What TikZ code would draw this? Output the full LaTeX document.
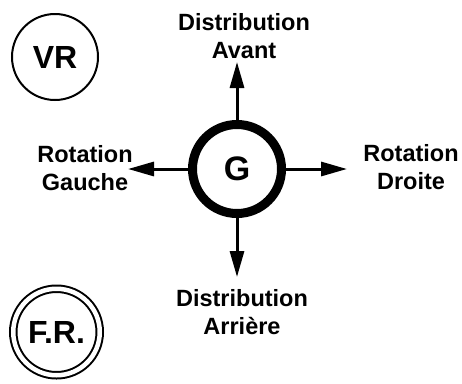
\documentclass[tikz,border=0pt]{standalone}
\usepackage{fontspec}
\setmainfont{Liberation Sans}
\usetikzlibrary{arrows.meta}
\begin{document}
\begin{tikzpicture}[x=1pt,y=-1pt,
  lab/.style={font=\bfseries\fontsize{23.5}{28}\selectfont, align=center, inner sep=0pt},
  ring/.style={circle, draw, inner sep=0pt},
  dirarrow/.style={line width=3pt, -{Triangle[length=26pt,width=14pt]}}]
\useasboundingbox (0,0) rectangle (462,383);
% central circle
\node[ring, line width=9pt, minimum size=89pt, font=\bfseries\fontsize{34}{40}\selectfont] (g) at (237,169) {G};
% side circles
\node[ring, line width=2pt, minimum size=86pt, font=\bfseries\fontsize{32}{38}\selectfont] (vr) at (55,57) {VR};
\node[ring, line width=2pt, double, double distance=4.5pt, minimum size=86.5pt, font=\bfseries\fontsize{32}{38}\selectfont] (fr) at (56.5,332) {F.R.};
% arrow ends
\coordinate (up) at (237,62);
\coordinate (dn) at (237,277);
\coordinate (lt) at (128,169);
\coordinate (rt) at (347,169);
\draw[dirarrow] (g) -- (up);
\draw[dirarrow] (g) -- (dn);
\draw[dirarrow] (g) -- (lt);
\draw[dirarrow] (g) -- (rt);
% labels
\node[lab] (avant) at (244,36) {Distribution\\Avant};
\node[lab] (arriere) at (242,312) {Distribution\\Arrière};
\node[lab] (gauche) at (85,168) {Rotation\\Gauche};
\node[lab] (droite) at (411,167) {Rotation\\Droite};
\end{tikzpicture}
\end{document}
